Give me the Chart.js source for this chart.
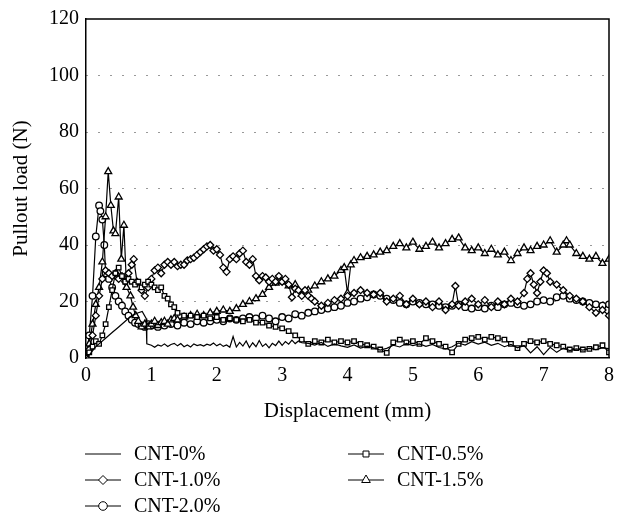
<!DOCTYPE html>
<html>
<head>
<meta charset="utf-8">
<title>Pullout load vs displacement</title>
<script src="https://cdn.jsdelivr.net/npm/chart.js@4.4.1/dist/chart.umd.min.js"></script>
<style>
  html, body { margin: 0; padding: 0; background: #fff; }
  canvas { display: block; }
</style>
</head>
<body>
<canvas id="pulloutChart" width="622" height="517"></canvas>
<script>
// displacement (mm) / pullout load (N) for each CNT content
const cnt0X = [0, 0.05, 0.1, 0.15, 0.2, 0.3, 0.4, 0.5, 0.6, 0.7, 0.8, 0.86, 0.92, 0.93,
  1.0, 1.05, 1.1, 1.15, 1.2, 1.25, 1.3, 1.35, 1.4, 1.45, 1.5, 1.55, 1.6, 1.65, 1.7, 1.75, 1.8, 1.85, 1.9, 1.95,
  2.0, 2.05, 2.1, 2.15, 2.2, 2.25, 2.3, 2.35, 2.4, 2.45, 2.5, 2.55, 2.6, 2.65, 2.7, 2.75, 2.8, 2.85, 2.9, 2.95,
  3.0, 3.05, 3.1, 3.15, 3.2, 3.25, 3.3,
  3.4, 3.5, 3.6, 3.7, 3.8, 3.9, 4.0, 4.1, 4.2, 4.3, 4.4, 4.5, 4.6, 4.7, 4.8, 4.9, 5.0, 5.1, 5.2, 5.3, 5.4, 5.5,
  5.6, 5.7, 5.8, 5.9, 6.0, 6.1, 6.2, 6.3, 6.4, 6.5, 6.6, 6.7, 6.8, 6.9, 7.0, 7.1, 7.2, 7.3, 7.4, 7.5, 7.6, 7.7,
  7.8, 7.9, 8.0];
const cnt0Y = [0, 1, 2.5, 4, 5, 7, 9, 11, 13, 15, 16, 16.5, 14, 5,
  4.5, 3.8, 4.6, 4.2, 5.0, 4.1, 4.8, 5.2, 4.3, 5.1, 4.0, 4.6, 3.9, 5.0, 4.4, 4.7, 4.2, 4.9, 4.5, 5.3,
  4.3, 5.0, 4.1, 4.6, 3.8, 7.6, 3.9, 5.5, 4.2, 6.0, 3.7, 5.4, 4.0, 6.2, 4.1, 5.0, 3.6, 5.2, 4.4, 6.0,
  4.5, 5.8, 4.9, 6.3, 5.1, 6.0, 5.4,
  5.2, 4.6, 5.5, 4.1, 5.0, 4.3, 3.8, 4.6, 3.5, 4.2, 3.6, 2.8, 3.4, 4.5, 3.9, 5.2, 4.4, 5.0, 4.1, 4.8, 3.7, 3.2,
  4.0, 5.3, 4.6, 5.8, 4.9, 5.6, 4.5, 5.2, 4.0, 4.8, 3.6, 4.4, 1.8, 4.0, 1.2, 3.8, 2.0, 3.5, 2.6, 3.2, 2.8, 3.4,
  3.0, 3.6, 3.3];

const cnt05X = [0, 0.05, 0.1, 0.15, 0.2, 0.25, 0.3, 0.35, 0.4, 0.45, 0.5, 0.55, 0.6, 0.65, 0.7, 0.75, 0.8, 0.85,
  0.9, 0.95, 1.0, 1.05, 1.1, 1.15, 1.2, 1.25, 1.3, 1.35, 1.4, 1.5, 1.6, 1.7, 1.8, 1.9, 2.0, 2.1, 2.2, 2.3, 2.4,
  2.5, 2.6, 2.7, 2.8, 2.9, 3.0, 3.1, 3.2, 3.3, 3.4, 3.5, 3.6, 3.7, 3.8, 3.9, 4.0, 4.1, 4.2, 4.3, 4.4, 4.5, 4.6,
  4.7, 4.8, 4.9, 5.0, 5.1, 5.2, 5.3, 5.4, 5.5, 5.6, 5.7, 5.8, 5.9, 6.0, 6.1, 6.2, 6.3, 6.4, 6.5, 6.6, 6.7, 6.8,
  6.9, 7.0, 7.1, 7.2, 7.3, 7.4, 7.5, 7.6, 7.7, 7.8, 7.9, 8.0];
const cnt05Y = [0, 2, 4, 6, 5, 8, 12, 18, 24, 30, 32, 29, 27, 28, 27, 26, 27, 25,
  26, 27, 26, 25, 24, 25, 22, 21, 19, 18, 16, 15, 15, 14.5, 15, 14, 14.5, 13.5, 14, 13.5, 13,
  13.5, 12.5, 12.5, 11.5, 11, 10.5, 9.5, 8, 6.5, 5, 6, 5.5, 6.5, 5.5, 6, 5.5, 6, 5, 4.5, 4, 3, 1.8,
  5.5, 6.5, 5.5, 6, 5, 7, 6, 5, 4, 2, 5, 6.5, 7, 7.5, 6.5, 7.5, 7, 6.5, 5, 3.5, 5, 6,
  5.5, 6, 5, 4.5, 4, 3, 3.5, 3, 3.2, 3.8, 4.5, 2];

const cnt10X = [0, 0.05, 0.1, 0.15, 0.2, 0.25, 0.3, 0.35, 0.4, 0.45, 0.5, 0.55, 0.6, 0.65, 0.7, 0.73, 0.78, 0.85,
  0.9, 0.95, 1.0, 1.05, 1.1, 1.15, 1.2, 1.25, 1.3, 1.35, 1.4, 1.45, 1.5, 1.55, 1.6, 1.65, 1.7, 1.75, 1.8, 1.85,
  1.9, 1.95, 2.0, 2.05, 2.1, 2.15, 2.2, 2.25, 2.3, 2.35, 2.4, 2.45, 2.5, 2.55, 2.6, 2.65, 2.7, 2.75, 2.8, 2.85,
  2.9, 2.95, 3.0, 3.05, 3.1, 3.15, 3.2, 3.25, 3.3, 3.35, 3.4, 3.45, 3.5, 3.6, 3.7, 3.8, 3.9, 4.0, 4.1, 4.2, 4.3,
  4.4, 4.5, 4.6, 4.7, 4.8, 4.9, 5.0, 5.1, 5.2, 5.3, 5.4, 5.5, 5.6, 5.65, 5.7, 5.8, 5.9, 6.0, 6.1, 6.2, 6.3, 6.4,
  6.5, 6.6, 6.7, 6.75, 6.8, 6.85, 6.9, 6.95, 7.0, 7.05, 7.1, 7.2, 7.3, 7.4, 7.5, 7.6, 7.7, 7.8, 7.9, 8.0];
const cnt10Y = [0, 3, 8, 15, 22, 28, 31, 30, 29, 30, 28, 29, 27, 30, 33, 35, 27, 24,
  22, 25, 28, 31, 32, 30, 33, 34, 33, 34, 32.5, 33, 33, 34.5, 35, 35.5, 36.5, 37.5, 38.5, 39.5,
  40, 38, 38.5, 36.5, 32, 30.5, 35, 36, 35, 37, 38, 34, 33, 35, 29, 27.5, 29, 28.5, 27, 28,
  27, 29, 27, 28, 26, 21.5, 24.5, 24, 22, 24, 22, 21, 20, 18.5, 19.5, 20.5, 21, 22, 23, 24, 23,
  22.5, 23, 20, 21, 22, 19, 21, 19, 20, 18, 20, 17, 19, 25.5, 18.5, 20, 21, 19, 20.5, 18, 20, 19,
  21, 20, 23, 28, 30, 26, 23, 27, 31, 30, 27, 26, 24, 22, 21, 20, 18, 16, 17, 15];

const cnt15X = [0, 0.05, 0.1, 0.15, 0.2, 0.25, 0.3, 0.34, 0.38, 0.42, 0.45, 0.5, 0.54, 0.58, 0.62, 0.68, 0.72,
  0.76, 0.8, 0.85, 0.9, 0.95, 1.0, 1.05, 1.1, 1.15, 1.2, 1.25, 1.3, 1.35, 1.4, 1.5, 1.6, 1.7, 1.8, 1.9, 2.0,
  2.1, 2.2, 2.3, 2.4, 2.5, 2.6, 2.7, 2.8, 2.9, 3.0, 3.1, 3.2, 3.3, 3.4, 3.5, 3.6, 3.7, 3.8, 3.9, 3.95, 4.0,
  4.05, 4.1, 4.2, 4.3, 4.4, 4.5, 4.6, 4.7, 4.8, 4.9, 5.0, 5.1, 5.2, 5.3, 5.4, 5.5, 5.6, 5.7, 5.8, 5.9, 6.0,
  6.1, 6.2, 6.3, 6.4, 6.5, 6.6, 6.7, 6.8, 6.9, 7.0, 7.1, 7.2, 7.3, 7.35, 7.4, 7.5, 7.6, 7.7, 7.8, 7.9, 8.0];
const cnt15Y = [0, 5, 12, 19, 25, 34, 50, 66, 54, 45, 44, 57, 35, 47, 25, 22, 18,
  15, 13, 11, 12, 11, 12, 13, 11.5, 12.5, 13, 12, 13.5, 14, 13.5, 14.5, 15, 15.5, 15, 16, 16.5,
  17, 16.5, 17.5, 19, 20, 21, 22.5, 25, 26.5, 27, 25.5, 26, 22.5, 24, 25.5, 27, 28, 29, 31, 32, 23,
  33, 34.5, 35.5, 36, 36.5, 37.5, 38, 39.5, 40.5, 39, 41, 38.5, 39.5, 41, 39, 40.5, 42, 42.5, 39, 38, 39,
  37, 38.5, 36.5, 37.5, 34.5, 37, 39, 38, 39.5, 40, 41.5, 37.5, 40, 41.5, 40, 37, 36, 35, 36, 33.5, 35];

const cnt20X = [0, 0.05, 0.1, 0.15, 0.2, 0.22, 0.25, 0.28, 0.3, 0.35, 0.4, 0.45, 0.5, 0.55, 0.6, 0.65, 0.7,
  0.75, 0.8, 0.85, 0.9, 0.95, 1.0, 1.05, 1.1, 1.15, 1.2, 1.3, 1.4, 1.5, 1.6, 1.7, 1.8, 1.9, 2.0, 2.1, 2.2,
  2.3, 2.4, 2.5, 2.6, 2.7, 2.8, 2.9, 3.0, 3.1, 3.2, 3.3, 3.4, 3.5, 3.6, 3.7, 3.8, 3.9, 4.0, 4.1, 4.2, 4.3,
  4.4, 4.5, 4.6, 4.7, 4.8, 4.9, 5.0, 5.1, 5.2, 5.3, 5.4, 5.5, 5.6, 5.7, 5.8, 5.9, 6.0, 6.1, 6.2, 6.3, 6.4,
  6.5, 6.6, 6.7, 6.8, 6.9, 7.0, 7.1, 7.2, 7.3, 7.4, 7.5, 7.6, 7.7, 7.8, 7.9, 8.0];
const cnt20Y = [0, 8, 22, 43, 54, 52, 49, 40, 30, 28, 25, 22, 20, 18.5, 16.5, 15, 13.5,
  12.5, 12, 11.5, 11, 12, 11.5, 12, 11, 12, 11.5, 12, 11.5, 12.5, 12, 13, 12.5, 13, 13.5, 13, 14,
  13.5, 14, 14.5, 14, 15, 14, 13, 14.5, 14, 15.5, 15, 16, 16.5, 17, 17.5, 18, 18.5, 19.5, 20, 21, 21.5,
  22.5, 22, 21, 20.5, 19.5, 19, 20, 19.5, 19, 19, 18.5, 18, 18.5, 19, 18, 17.5, 18, 17.5, 18.5, 18, 19,
  19.5, 19, 18.5, 19, 20, 20.5, 20, 21.5, 22, 21, 20.5, 20, 19.5, 19, 18.5, 19];

const seriesNames = ["CNT-0%", "CNT-0.5%", "CNT-1.0%", "CNT-1.5%", "CNT-2.0%"];
const xTicks = [0, 1, 2, 3, 4, 5, 6, 7, 8];
const yTicks = [0, 20, 40, 60, 80, 100, 120];

const serif = "'Liberation Serif', 'Times New Roman', serif";

function toPoints(xs, ys) {
  return xs.map((x, i) => ({ x: x, y: ys[i] }));
}

function makeSet(label, xs, ys, style, radius) {
  return {
    label: label,
    data: toPoints(xs, ys),
    borderColor: "#000",
    borderWidth: 1.2,
    pointStyle: style,
    pointRadius: radius,
    pointBorderColor: "#000",
    pointBackgroundColor: "#fff",
    pointBorderWidth: 1.3,
    tension: 0,
    fill: false
  };
}

const datasets = [
  makeSet(seriesNames[0], cnt0X, cnt0Y, false, 0),
  makeSet(seriesNames[1], cnt05X, cnt05Y, "rect", 3.2),
  makeSet(seriesNames[2], cnt10X, cnt10Y, "rectRot", 3.5),
  makeSet(seriesNames[3], cnt15X, cnt15Y, "triangle", 4),
  makeSet(seriesNames[4], cnt20X, cnt20Y, "circle", 3.3)
];

// closes the frame on top and right, and draws the legend below the axis
const framePlugin = {
  id: "frame",
  afterDraw(chart) {
    const ctx = chart.ctx;
    const a = chart.chartArea;
    ctx.save();
    ctx.strokeStyle = "#000";
    ctx.lineWidth = 1.5;
    ctx.beginPath();
    ctx.moveTo(a.left, a.top);
    ctx.lineTo(a.right, a.top);
    ctx.lineTo(a.right, a.bottom);
    ctx.stroke();

    const cols = [85, 348];
    const rows = [454, 480, 506];
    const slots = [[0, 0], [1, 0], [0, 1], [1, 1], [0, 2]];
    ctx.font = "20px " + serif;
    ctx.textBaseline = "middle";
    ctx.textAlign = "left";
    chart.data.datasets.forEach((ds, i) => {
      const x0 = cols[slots[i][0]];
      const y = rows[slots[i][1]];
      ctx.strokeStyle = "#000";
      ctx.lineWidth = 1;
      ctx.beginPath();
      ctx.moveTo(x0, y);
      ctx.lineTo(x0 + 36, y);
      ctx.stroke();
      if (ds.pointStyle) {
        ctx.fillStyle = "#fff";
        Chart.helpers.drawPoint(ctx, {
          pointStyle: ds.pointStyle,
          radius: ds.pointRadius + 1,
          borderWidth: 1,
          rotation: 0
        }, x0 + 18, y);
      }
      ctx.fillStyle = "#000";
      ctx.fillText(ds.label, x0 + 49, y + 1);
    });
    ctx.restore();
  }
};

new Chart(document.getElementById("pulloutChart"), {
  type: "line",
  data: { datasets: datasets },
  options: {
    responsive: false,
    animation: false,
    layout: { padding: { left: 0, top: 16, right: 13, bottom: 93 } },
    plugins: {
      legend: { display: false },
      tooltip: { enabled: false }
    },
    scales: {
      x: {
        type: "linear",
        min: 0,
        max: 8,
        afterFit(scale) { scale.height = 66; },
        afterBuildTicks(scale) { scale.ticks = xTicks.map(v => ({ value: v })); },
        grid: { display: false, drawTicks: false },
        border: { display: true, color: "#000", width: 1.5 },
        ticks: { color: "#000", padding: 6, font: { family: serif, size: 20 } },
        title: {
          display: true,
          text: "Displacement (mm)",
          color: "#000",
          padding: { top: 0, bottom: 0 },
          font: { family: serif, size: 21 }
        }
      },
      y: {
        min: 0,
        max: 120,
        afterFit(scale) { scale.width = 86; },
        afterBuildTicks(scale) { scale.ticks = yTicks.map(v => ({ value: v })); },
        grid: {
          drawTicks: false,
          lineWidth: 1,
          color: c => (c.tick && (c.tick.value === 0 || c.tick.value === 120)) ? "rgba(0,0,0,0)" : "#333"
        },
        border: { display: true, color: "#000", width: 1.5, dash: [1, 11] },
        ticks: { color: "#000", padding: 7, font: { family: serif, size: 20 } },
        title: {
          display: true,
          text: "Pullout load (N)",
          color: "#000",
          padding: { top: 9, bottom: 0 },
          font: { family: serif, size: 21 }
        }
      }
    }
  },
  plugins: [framePlugin]
});
</script>
</body>
</html>
